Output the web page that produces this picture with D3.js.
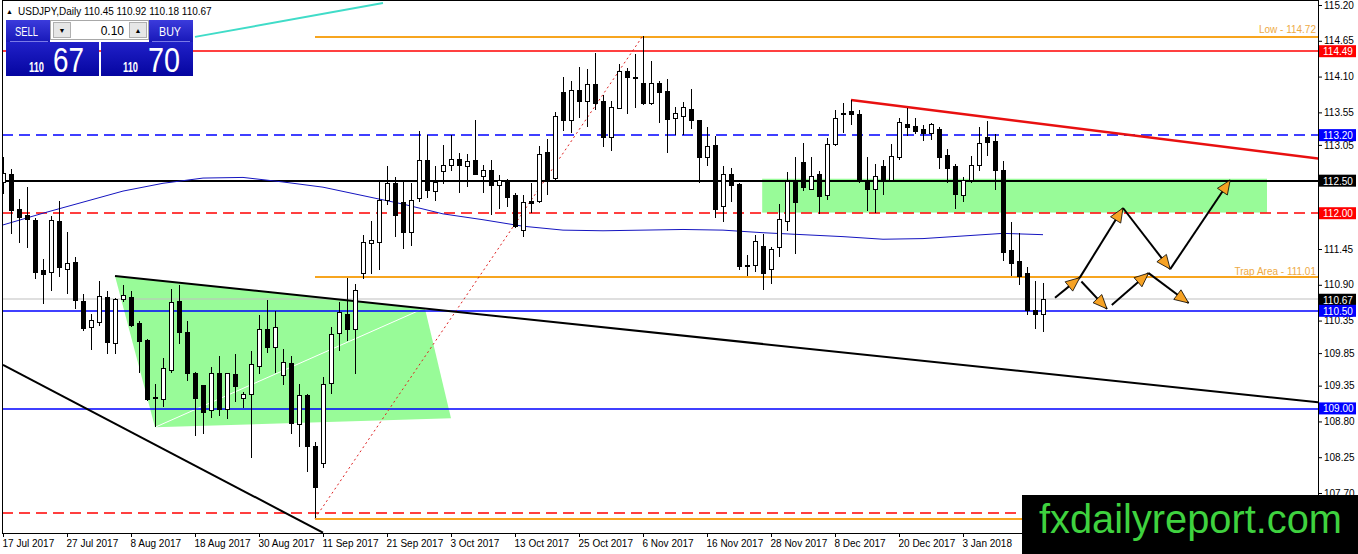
<!DOCTYPE html>
<html>
<head>
<meta charset="utf-8">
<script src="https://d3js.org/d3.v7.min.js"></script>
<style>
  body { margin: 0; background: #fff; }
  svg { display: block; font-family: "Liberation Sans", Arial, sans-serif; }
</style>
</head>
<body>
<svg id="chart" width="1358" height="554"></svg>
<script>
// ---- data ----
var firstDay = new Date(2017, 6, 17);
var skipDays = ["2017-12-25", "2018-01-01"];

var open = [112.47,112.60,112.06,111.96,111.89,111.12,111.09,111.87,111.14,111.25,
  110.64,110.24,110.32,110.71,110.00,110.68,110.71,110.30,110.04,109.16,
  109.13,109.58,110.64,110.16,109.53,109.35,108.97,109.53,108.99,109.52,
  109.16,109.21,109.65,110.22,109.94,109.50,109.69,108.76,109.20,108.42,
  108.16,109.38,110.15,110.45,110.22,111.07,111.53,111.55,112.19,112.46,
  112.16,111.70,112.23,112.81,112.33,112.64,112.74,112.83,112.72,112.81,
  112.57,112.65,112.42,112.50,112.27,111.74,112.18,112.18,112.93,112.53,
  113.85,113.42,113.88,113.72,113.98,113.71,113.17,113.61,114.18,114.08,
  113.99,113.69,114.00,113.87,113.45,113.49,113.60,113.42,112.85,113.04,
  112.11,112.60,112.44,111.19,111.19,111.49,111.14,111.47,111.88,112.50,
  112.78,112.37,112.59,112.27,113.06,113.52,113.56,113.52,112.50,112.37,
  112.72,112.51,112.86,113.37,113.33,113.28,113.22,113.29,112.88,112.72,
  112.27,112.50,112.74,113.16,113.10,112.65,111.42,111.26,111.07,110.50,
  110.45];
var high = [112.86,112.68,112.22,112.41,111.92,111.30,111.95,112.19,111.71,111.32,
  110.76,110.45,110.96,110.81,110.69,110.90,110.81,110.35,110.06,109.37,
  109.77,110.83,110.89,110.35,109.56,109.35,109.63,109.81,109.55,109.83,
  109.25,109.89,110.43,110.66,110.50,109.92,109.80,109.38,109.22,108.48,
  109.49,110.25,110.64,111.01,110.91,111.66,111.88,112.50,112.72,112.55,
  112.49,112.46,113.26,113.20,112.73,113.05,113.20,112.93,112.91,113.43,
  112.74,112.82,112.58,112.52,112.31,112.28,112.46,113.04,113.14,113.56,
  114.10,114.03,114.24,114.22,114.46,113.81,113.73,114.29,114.23,114.45,
  114.73,114.34,114.03,114.06,113.64,113.71,113.91,113.44,113.33,113.18,
  112.72,112.70,112.47,111.36,111.66,111.68,111.48,112.14,112.64,112.87,
  113.08,112.87,112.65,113.16,113.59,113.69,113.74,113.59,112.87,112.75,
  112.82,113.06,113.46,113.62,113.46,113.35,113.38,113.32,112.99,112.75,
  112.55,112.88,113.33,113.41,113.22,112.81,111.87,111.69,111.17,110.96,
  110.92];
var low = [112.30,111.68,111.54,111.46,110.99,110.60,110.80,111.02,110.76,110.53,
  110.19,109.90,110.26,109.83,109.83,110.63,110.25,109.55,109.12,108.71,
  109.02,109.55,109.99,109.42,108.57,108.61,108.86,108.89,108.83,109.10,
  109.00,108.24,109.53,109.85,109.54,109.36,108.61,108.41,108.02,107.31,
  108.09,109.22,109.88,110.04,109.53,110.99,111.07,111.12,112.12,111.63,
  111.45,111.49,112.17,112.23,112.19,112.45,112.65,112.31,112.40,112.59,
  112.31,111.98,112.06,112.10,111.78,111.63,112.00,112.16,112.28,112.50,
  113.27,113.24,113.46,113.32,113.59,113.01,112.96,113.60,113.52,113.62,
  113.66,113.67,113.38,112.93,113.20,113.20,113.29,112.46,112.72,111.93,
  111.87,112.17,111.13,111.04,111.10,110.82,110.91,111.32,111.72,111.38,
  112.34,112.35,111.99,112.20,113.04,113.23,113.35,112.46,112.04,112.00,
  112.28,112.48,112.82,113.19,113.21,113.11,113.13,112.68,112.47,112.06,
  112.18,112.47,112.65,112.88,112.36,111.26,111.03,110.89,110.44,110.22,
  110.18];
var close = [112.61,112.04,111.94,111.90,111.09,111.06,111.89,111.16,111.23,110.66,
  110.23,110.35,110.72,110.02,110.67,110.73,110.27,110.03,109.14,109.17,
  109.61,110.63,110.17,109.54,109.16,108.94,109.54,108.99,109.53,109.33,
  109.22,109.67,110.21,109.94,110.24,109.70,108.77,109.20,108.42,107.78,
  109.37,110.13,110.48,110.21,110.81,111.55,111.58,112.19,112.45,111.97,
  111.71,112.20,112.81,112.35,112.47,112.74,112.83,112.74,112.80,112.60,
  112.66,112.43,112.50,112.24,111.79,112.17,112.15,112.91,112.50,113.49,
  113.42,113.88,113.72,113.98,113.68,113.16,113.62,114.18,114.08,114.08,
  113.68,114.00,113.85,113.44,113.54,113.62,113.43,112.86,113.03,112.06,
  112.60,112.43,111.18,111.19,111.57,111.07,111.45,111.90,112.49,112.17,
  112.39,112.57,112.26,113.06,113.46,113.54,113.51,112.50,112.37,112.57,
  112.50,112.87,113.39,113.31,113.26,113.22,113.36,112.86,112.69,112.28,
  112.50,112.74,113.07,113.09,112.65,111.40,111.22,111.03,110.50,110.44,
  110.67];

// slow moving average, read every 5 bars
var maBars   = [0,5,10,15,20,25,30,35,40,45,50,55,60,65,70,75,80,85,90,95,100,105,110,115,120,125,130];
var maValues = [111.82,112.00,112.17,112.34,112.46,112.54,112.55,112.48,112.40,112.27,112.14,111.99,111.90,111.80,
  111.74,111.73,111.74,111.75,111.74,111.70,111.67,111.64,111.60,111.61,111.65,111.69,111.67];

var yTicks = [115.20,114.65,114.10,113.55,113.05,111.45,110.90,110.35,109.85,109.35,108.80,108.25,107.70];

// horizontal levels (full width) and the orange ones that start at the September low
var hLevels = [114.49, 113.20, 112.50, 112.00, 110.67, 110.50, 109.00, 107.40];
var orangeLevels = [114.72, 111.01, 107.31];
var orangeNames = ["Low", "Trap Area", ""];
var orangeStartBar = 39;

// price tags on the right axis
var tagPrices = [114.49, 113.20, 112.50, 112.00, 110.67, 110.50, 109.00];

// drawn objects, as [bar, price]
var trendRed = [[106, 113.74], [164.4, 112.84]];
var trendUpper = [[14, 111.035], [164.4, 109.094]];
var trendLower = [[0, 109.67], [40, 107.09]];
var trendTeal = [[24, 114.71], [47.5, 115.23]];
var trendDotted = [[39, 107.31], [80, 114.73]];
var trendWhite = [[19, 108.71], [52.1, 110.51]];
var greenTriangle = [[14, 111.035], [52.75, 110.53], [56, 108.85], [19, 108.71]];
var greenBox = [[94.9, 112.53], [158, 112.01]];
var arrows = [
  [[131.5, 110.70], [134.6, 111.01]],
  [[134.6, 111.01], [140.0, 112.08]],
  [[140.0, 112.08], [145.9, 111.14]],
  [[145.9, 111.14], [153.4, 112.51]],
  [[134.8, 110.95], [138.0, 110.53]],
  [[138.6, 110.59], [143.2, 111.08]],
  [[143.2, 111.08], [148.2, 110.62]]
];

var symbol = "USDJPY,Daily";
var bid = "110.67", ask = "110.70", lot = "0.10";

// ---- drawing ----
var svg = d3.select("#chart");
var n = open.length;
var plotRight = 1318, plotBottom = 533;

var dates = [];
var fmtKey = d3.timeFormat("%Y-%m-%d");
for (var d = new Date(firstDay); dates.length < n; d.setDate(d.getDate() + 1)) {
  if (d.getDay() != 0 && d.getDay() != 6 && skipDays.indexOf(fmtKey(d)) < 0) dates.push(new Date(d));
}
var fmtDate = d3.timeFormat("%-d %b %Y");

var x = d3.scaleLinear().domain([0, n - 1]).range([3, 3 + 8 * (n - 1)]);
var y = d3.scaleLinear().domain([107.70, 115.20]).range([493, 5]);

var defs = svg.append("defs");
defs.append("clipPath").attr("id", "plotclip")
  .append("rect").attr("x", 2).attr("y", 0).attr("width", plotRight - 2).attr("height", plotBottom);

var g = svg.append("g").attr("clip-path", "url(#plotclip)");
var line = d3.line().x(function(p) { return x(p[0]); }).y(function(p) { return y(p[1]); });

// filled objects behind everything
g.append("path").attr("d", line(greenTriangle) + "Z").attr("fill", "#98fb98");
g.append("rect")
  .attr("x", x(greenBox[0][0])).attr("y", y(greenBox[0][1]))
  .attr("width", x(greenBox[1][0]) - x(greenBox[0][0]))
  .attr("height", y(greenBox[1][1]) - y(greenBox[0][1]))
  .attr("fill", "#98fb98");
g.append("path").attr("d", line(trendWhite)).attr("stroke", "#fff").attr("stroke-width", 1).attr("fill", "none");

// horizontal levels; snapped to an odd pixel boundary so the thin colour spans two rows
var hColor = ["#ff0000", "#0000ff", "#000000", "#ff0000", "#c0c0c0", "#0000ff", "#0000ff", "#ff0000"];
var hDash  = [null, "11,6", null, "11,6", null, null, null, "11,6"];
var hWidth = [1.5, 1.5, 2, 1.5, 1.2, 1.5, 1.5, 1.5];
function snap(v) { return 2 * Math.round((y(v) - 1) / 2) + 1; }
var hg = g.append("g");
hLevels.forEach(function(v, i) {
  hg.append("line")
    .attr("x1", 2).attr("x2", plotRight)
    .attr("y1", snap(v)).attr("y2", snap(v))
    .style("stroke", hColor[i])
    .style("stroke-width", hWidth[i])
    .style("stroke-dasharray", hDash[i] || "none");
});

g.append("g").selectAll("line").data(orangeLevels).enter().append("line")
  .attr("x1", x(orangeStartBar)).attr("x2", plotRight)
  .attr("y1", function(v) { return snap(v); }).attr("y2", function(v) { return snap(v); })
  .attr("stroke", "#f7a51f").attr("stroke-width", 2);

// moving average
g.append("path")
  .attr("d", d3.line().x(function(b) { return x(b); }).y(function(b, i) { return y(maValues[i]); })(maBars))
  .attr("fill", "none").attr("stroke", "#1515c0").attr("stroke-width", 1);

// trend lines
g.append("path").attr("d", line(trendDotted)).attr("fill", "none").attr("stroke", "#dd2020").attr("stroke-dasharray", "2,3");
g.append("path").attr("d", line(trendUpper)).attr("fill", "none").attr("stroke", "#000").attr("stroke-width", 2);
g.append("path").attr("d", line(trendLower)).attr("fill", "none").attr("stroke", "#000").attr("stroke-width", 2);
g.append("path").attr("d", line(trendRed)).attr("fill", "none").attr("stroke", "#e81010").attr("stroke-width", 2.5);
g.append("path").attr("d", line(trendTeal)).attr("fill", "none").attr("stroke", "#40dcc8").attr("stroke-width", 2);

// candles
var bars = d3.range(n);
var cg = g.append("g").attr("shape-rendering", "crispEdges");
cg.selectAll("line.wick").data(bars).enter().append("line").attr("class", "wick")
  .attr("x1", function(i) { return x(i); }).attr("x2", function(i) { return x(i); })
  .attr("y1", function(i) { return y(high[i]); }).attr("y2", function(i) { return y(low[i]); })
  .attr("stroke", "#000");
cg.selectAll("rect.body").data(bars).enter().append("rect").attr("class", "body")
  .attr("x", function(i) { return x(i) - 2; }).attr("width", 4)
  .attr("y", function(i) { return y(Math.max(open[i], close[i])); })
  .attr("height", function(i) { return Math.max(0.5, Math.abs(y(open[i]) - y(close[i]))); })
  .attr("fill", function(i) { return close[i] >= open[i] ? "#fff" : "#000"; })
  .attr("stroke", "#000");

// projected path arrows
function head(a, b) {
  var x1 = x(a[0]), y1 = y(a[1]), x2 = x(b[0]), y2 = y(b[1]);
  var ang = Math.atan2(y2 - y1, x2 - x1), L = 14, w = 6;
  var bx = x2 - L * Math.cos(ang), by = y2 - L * Math.sin(ang);
  return [[x2, y2], [bx + w * Math.sin(ang), by - w * Math.cos(ang)], [bx - w * Math.sin(ang), by + w * Math.cos(ang)]];
}
var ag = g.append("g");
ag.selectAll("path.shaft").data(arrows).enter().append("path").attr("class", "shaft")
  .attr("d", function(a) { return line(a); })
  .attr("stroke", "#000").attr("stroke-width", 2).attr("fill", "none");
ag.selectAll("path.head").data(arrows).enter().append("path").attr("class", "head")
  .attr("d", function(a) { return "M" + head(a[0], a[1]).join("L") + "Z"; })
  .attr("fill", "#f6a224").attr("stroke", "#000").attr("stroke-width", 0.8);

// level names
g.selectAll("text.lvl").data(orangeLevels.filter(function(v, i) { return orangeNames[i]; })).enter()
  .append("text").attr("class", "lvl")
  .attr("x", 1316).attr("y", function(v) { return y(v) - 3; })
  .attr("text-anchor", "end").attr("font-size", 10).attr("fill", "#eeaa44")
  .text(function(v, i) { return orangeNames[i] + " - " + d3.format(".2f")(v); });

// frame
svg.append("rect").attr("x", 2.5).attr("y", 0.5).attr("width", plotRight - 2.5).attr("height", plotBottom - 0.5)
  .attr("fill", "none").attr("stroke", "#000").attr("shape-rendering", "crispEdges");

// axes
var xAxis = svg.append("g").attr("transform", "translate(0," + plotBottom + ")")
  .call(d3.axisBottom(x).tickValues(d3.range(0, n - 8, 8)).tickSize(4).tickPadding(3)
    .tickFormat(function(i) { return fmtDate(dates[i]); }));
xAxis.select(".domain").remove();
xAxis.selectAll("text").attr("text-anchor", "start").attr("dx", -1)
  .attr("font-family", "Liberation Sans, Arial, sans-serif").attr("font-size", 10).attr("fill", "#000");

var yAxis = svg.append("g").attr("transform", "translate(" + plotRight + ",0)")
  .call(d3.axisRight(y).tickValues(yTicks).tickSize(4).tickPadding(2).tickFormat(d3.format(".2f")));
yAxis.select(".domain").remove();
yAxis.selectAll("text").attr("font-family", "Liberation Sans, Arial, sans-serif").attr("font-size", 10).attr("fill", "#000");

var tagColor = ["#ff0000", "#0000ff", "#000", "#ff0000", "#000", "#0000ff", "#0000ff"];
var tg = svg.append("g").selectAll("g").data(tagPrices).enter().append("g")
  .attr("transform", function(v) { return "translate(" + (plotRight + 1) + "," + y(v) + ")"; });
tg.append("rect").attr("x", 0).attr("y", -6).attr("width", 37).attr("height", 12)
  .attr("fill", function(v, i) { return tagColor[i]; });
tg.append("text").attr("x", 4).attr("y", 4).attr("font-size", 10).attr("fill", "#fff")
  .text(function(v) { return d3.format(".2f")(v); });

// header
svg.append("text").attr("x", 6).attr("y", 14).attr("font-size", 7).text("\u25B2");
svg.append("text").attr("x", 18).attr("y", 15).attr("font-size", 10)
  .text(symbol + "  " + [open[n - 1], high[n - 1], low[n - 1], close[n - 1]].map(d3.format(".2f")).join(" "));

// one-click trading panel
var grad1 = defs.append("linearGradient").attr("id", "btn").attr("x1", 0).attr("y1", 0).attr("x2", 0).attr("y2", 1);
grad1.append("stop").attr("offset", 0).attr("stop-color", "#3b3bdc");
grad1.append("stop").attr("offset", 1).attr("stop-color", "#1818b8");
var grad2 = defs.append("linearGradient").attr("id", "box").attr("x1", 0).attr("y1", 0).attr("x2", 0).attr("y2", 1);
grad2.append("stop").attr("offset", 0).attr("stop-color", "#2020c8");
grad2.append("stop").attr("offset", 1).attr("stop-color", "#0505a0");

var panel = svg.append("g").attr("shape-rendering", "crispEdges");
panel.append("rect").attr("x", 6).attr("y", 20).attr("width", 44).attr("height", 22).attr("fill", "url(#btn)");
panel.append("rect").attr("x", 149).attr("y", 20).attr("width", 44).attr("height", 22).attr("fill", "url(#btn)");
panel.append("rect").attr("x", 6).attr("y", 42).attr("width", 93).attr("height", 34).attr("fill", "url(#box)");
panel.append("rect").attr("x", 101).attr("y", 42).attr("width", 92).attr("height", 34).attr("fill", "url(#box)");
panel.append("line").attr("x1", 10).attr("x2", 48).attr("y1", 41.5).attr("y2", 41.5).attr("stroke", "#7a7ae8");
panel.append("line").attr("x1", 152).attr("x2", 190).attr("y1", 41.5).attr("y2", 41.5).attr("stroke", "#7a7ae8");
panel.append("rect").attr("x", 50.5).attr("y", 20.5).attr("width", 98).attr("height", 19).attr("fill", "#fff").attr("stroke", "#a8a8a8");
panel.append("rect").attr("x", 53.5).attr("y", 22.5).attr("width", 17).attr("height", 15).attr("fill", "#e6e6e6").attr("stroke", "#b0b0b0");
panel.append("rect").attr("x", 129.5).attr("y", 22.5).attr("width", 17).attr("height", 15).attr("fill", "#e6e6e6").attr("stroke", "#b0b0b0");

var pt = svg.append("g").attr("fill", "#fff");
pt.append("text").attr("x", 62).attr("y", 33).attr("font-size", 7).attr("fill", "#000").attr("text-anchor", "middle").text("\u25BC");
pt.append("text").attr("x", 138).attr("y", 33).attr("font-size", 7).attr("fill", "#000").attr("text-anchor", "middle").text("\u25B2");
pt.append("text").attr("x", 124).attr("y", 35).attr("font-size", 12).attr("fill", "#000").attr("text-anchor", "end").text(lot);
pt.append("text").attr("x", 15).attr("y", 36).attr("font-size", 12).attr("textLength", 23).attr("lengthAdjust", "spacingAndGlyphs").text("SELL");
pt.append("text").attr("x", 159).attr("y", 36).attr("font-size", 12).attr("textLength", 22).attr("lengthAdjust", "spacingAndGlyphs").text("BUY");
pt.append("text").attr("x", 29).attr("y", 72).attr("font-size", 14).attr("font-weight", "bold").attr("textLength", 15).attr("lengthAdjust", "spacingAndGlyphs").text(bid.split(".")[0]);
pt.append("text").attr("x", 53).attr("y", 72).attr("font-size", 35).attr("textLength", 31).attr("lengthAdjust", "spacingAndGlyphs").text(bid.split(".")[1]);
pt.append("text").attr("x", 123).attr("y", 72).attr("font-size", 14).attr("font-weight", "bold").attr("textLength", 15).attr("lengthAdjust", "spacingAndGlyphs").text(ask.split(".")[0]);
pt.append("text").attr("x", 148).attr("y", 72).attr("font-size", 35).attr("textLength", 32).attr("lengthAdjust", "spacingAndGlyphs").text(ask.split(".")[1]);

// watermark
svg.append("rect").attr("x", 1022).attr("y", 495).attr("width", 336).attr("height", 59).attr("fill", "#000");
svg.append("text").attr("x", 1039).attr("y", 533).attr("font-size", 40).attr("fill", "#3fd23f")
  .attr("textLength", 303).attr("lengthAdjust", "spacingAndGlyphs").text("fxdailyreport.com");
</script>
</body>
</html>
